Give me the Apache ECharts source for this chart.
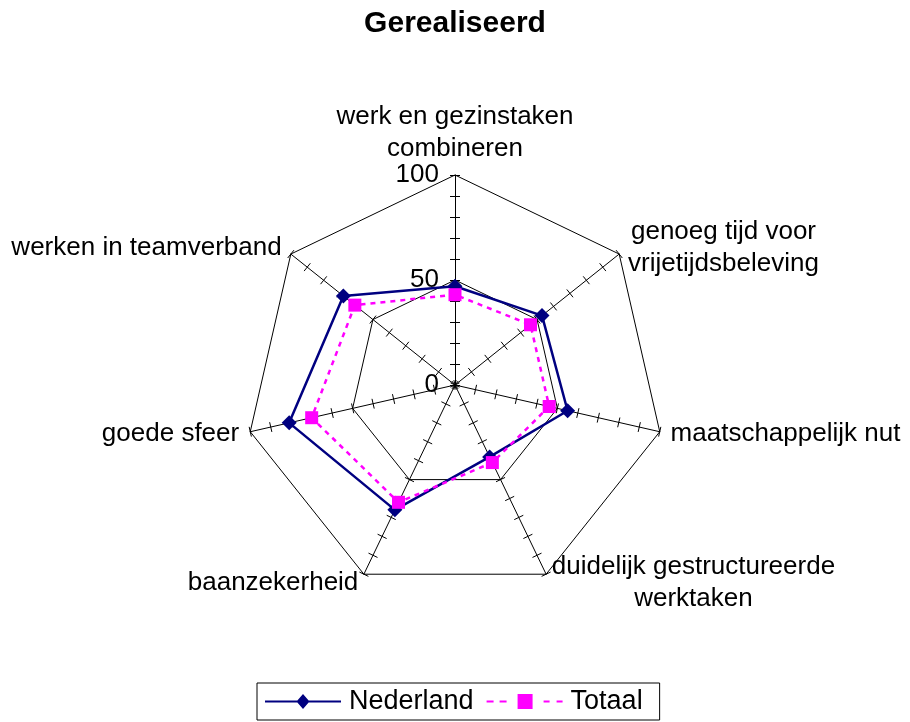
<!DOCTYPE html>
<html>
<head>
<meta charset="utf-8" />
<title>Gerealiseerd</title>
<script src="https://cdn.jsdelivr.net/npm/echarts@6/dist/echarts.min.js"></script>
<style>
  html, body { margin: 0; padding: 0; background: #fff; }
  #chart { width: 910px; height: 722px; }
</style>
</head>
<body>
<div id="chart"></div>
<script type="text/javascript">
    // categories in counter-clockwise order from top (ECharts radar order)
    var categories = [
        'werk en gezinstaken\ncombineren',
        'werken in teamverband',
        'goede sfeer',
        'baanzekerheid',
        'duidelijk gestructureerde\nwerktaken',
        'maatschappelijk nut',
        'genoeg tijd voor\nvrijetijdsbeleving'
    ];
    var nederland = [47, 68, 81, 66, 38, 55, 53];
    var totaal = [43, 61, 70, 62, 41, 46, 46];
    var axisMax = 100;
    var axisLabels = [0, 50, 100];

    var font = '"Liberation Sans", Arial, sans-serif';
    var nameSize = 26;

    // measure every name so that its lines can be centred inside one block
    var ctx = document.createElement('canvas').getContext('2d');
    ctx.font = nameSize + 'px ' + font;
    var rich = {};
    categories.forEach(function (c, i) {
        var w = 0;
        c.split('\n').forEach(function (line) {
            w = Math.max(w, ctx.measureText(line).width);
        });
        rich['n' + i] = {
            width: Math.ceil(w) + 2,
            align: 'center',
            fontSize: nameSize,
            fontFamily: font,
            color: '#000',
            lineHeight: 32
        };
    });

    var indicators = categories.map(function (c, i) {
        var ind = { name: c, max: axisMax, min: 0, nameMoveOverlap: false };
        if (i === 0) {
            ind.axisLabel = {
                show: true,
                color: '#000',
                fontSize: 26,
                fontFamily: font,
                margin: 16,
                formatter: function (v) {
                    return axisLabels.indexOf(v) >= 0 ? String(v) : '';
                }
            };
        }
        return ind;
    });
    var plainIndicators = categories.map(function (c) {
        return { name: '', max: axisMax, min: 0 };
    });

    // only the 50 and 100 rings are drawn
    var ringColors = ['transparent', 'transparent', 'transparent', 'transparent', 'transparent', '#000',
        'transparent', 'transparent', 'transparent', 'transparent', '#000'];

    // legend icons: line with marker, like the original
    var iconNederland = 'path://M0 6.5H76V8.5H0Z M31.5 7.5L38 0L44.5 7.5L38 15Z';
    var iconTotaal = 'path://M0 6.5H7V8.5H0Z M13 6.5H20V8.5H13Z M31 0H46V15H31Z M57 6.5H63V8.5H57Z M70 6.5H76V8.5H70Z';

    var myChart = echarts.init(document.getElementById('chart'));

    myChart.setOption({
        backgroundColor: '#fff',
        animation: false,
        title: {
            text: 'Gerealiseerd',
            left: 'center',
            top: 4,
            textStyle: { fontSize: 30, fontWeight: 'bold', color: '#000', fontFamily: font }
        },
        legend: {
            left: 257,
            top: 683,
            padding: [5, 17, 5, 8],
            borderColor: '#000',
            borderWidth: 1,
            itemWidth: 76,
            itemHeight: 15,
            itemGap: 13,
            textStyle: { fontSize: 27, color: '#000', fontFamily: font, padding: [0, 0, 0, 3] },
            data: [
                { name: 'Nederland', icon: iconNederland },
                { name: 'Totaal', icon: iconTotaal }
            ]
        },
        radar: [{
            center: [455, 385],
            radius: 210,
            startAngle: 90,
            shape: 'polygon',
            splitNumber: 10,
            indicator: indicators,
            axisName: {
                color: '#000',
                fontSize: nameSize,
                fontFamily: font,
                lineHeight: 32,
                rich: rich,
                formatter: function (name) {
                    var i = categories.indexOf(name);
                    return name.split('\n').map(function (line) {
                        return '{n' + i + '|' + line + '}';
                    }).join('\n');
                }
            },
            nameGap: 10,
            axisLine: { lineStyle: { color: '#000', width: 1 } },
            axisTick: { show: true, length: 5, lineStyle: { color: '#000', width: 1 } },
            axisLabel: { show: false },
            splitLine: { lineStyle: { color: ringColors, width: 1 } },
            splitArea: { show: false }
        }, {
            // second copy only for ticks on the other side of each axis
            center: [455, 385],
            radius: 210,
            startAngle: 90,
            shape: 'polygon',
            splitNumber: 10,
            indicator: plainIndicators,
            axisName: { show: false },
            axisLine: { show: false },
            axisTick: { show: true, length: -5, lineStyle: { color: '#000', width: 1 } },
            axisLabel: { show: false },
            splitLine: { show: false },
            splitArea: { show: false }
        }],
        series: [{
            type: 'radar',
            radarIndex: 0,
            data: [{
                name: 'Nederland',
                value: nederland,
                symbol: 'diamond',
                symbolSize: 15,
                itemStyle: { color: '#000080' },
                lineStyle: { color: '#000080', width: 2.5, type: 'solid' }
            }, {
                name: 'Totaal',
                value: totaal,
                symbol: 'rect',
                symbolSize: 13,
                itemStyle: { color: '#ff00ff' },
                lineStyle: { color: '#ff00ff', width: 2.5, type: [5, 5] }
            }]
        }]
    });
</script>
</body>
</html>
